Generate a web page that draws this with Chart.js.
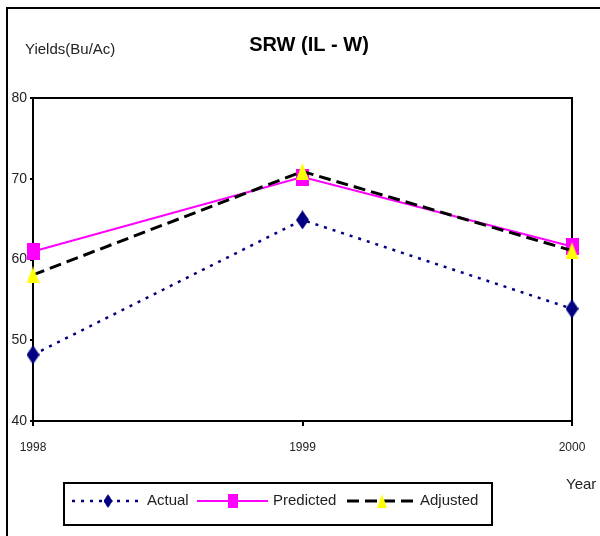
<!DOCTYPE html>
<html>
<head>
<meta charset="utf-8">
<script src="https://cdn.jsdelivr.net/npm/chart.js@4"></script>
<style>
  html, body { margin: 0; padding: 0; background: #fff; }
  #chart { display: block; }
</style>
</head>
<body>
<canvas id="chart" width="600" height="536"></canvas>
<script>
const years = ['1998', '1999', '2000'];
const actual = [48.2, 64.9, 53.9];
const predicted = [61.0, 70.2, 61.6];
const adjusted = [58.1, 70.9, 61.1];
const yTicks = [40, 50, 60, 70, 80];
const seriesNames = ['Actual', 'Predicted', 'Adjusted'];

const FONT = '"Liberation Sans", Arial, sans-serif';

// excel-like markers (a bit taller than wide)
function marker(kind, color, w, h) {
  const c = document.createElement('canvas');
  c.width = w;
  c.height = h;
  const g = c.getContext('2d');
  g.fillStyle = color;
  g.beginPath();
  if (kind === 'diamond') {
    g.moveTo(w / 2, 0); g.lineTo(w, h / 2); g.lineTo(w / 2, h); g.lineTo(0, h / 2);
  } else if (kind === 'triangle') {
    g.moveTo(w / 2, 0); g.lineTo(w, h); g.lineTo(0, h);
  } else {
    g.rect(0, 0, w, h);
  }
  g.closePath();
  g.fill();
  return c;
}

const diamond = marker('diamond', '#000080', 13, 19);
const square = marker('square', '#ff00ff', 13, 17);
const triangle = marker('triangle', '#ffff00', 13, 17);

const framePlugin = {
  id: 'frame',
  beforeDatasetsDraw(chart) {
    // plot box under the markers
    const ctx = chart.ctx;
    const a = chart.chartArea;
    ctx.save();
    ctx.strokeStyle = '#000';
    ctx.lineWidth = 2;
    ctx.strokeRect(a.left, a.top, a.right - a.left, a.bottom - a.top);
    ctx.restore();
  },
  afterDraw(chart) {
    const ctx = chart.ctx;
    ctx.save();
    ctx.strokeStyle = '#000';
    ctx.lineWidth = 2;
    ctx.setLineDash([]);
    // outer frame (only left and top show)
    ctx.beginPath();
    ctx.moveTo(7, 536);
    ctx.lineTo(7, 8);
    ctx.lineTo(600, 8);
    ctx.stroke();

    ctx.fillStyle = '#000';
    ctx.textBaseline = 'middle';
    ctx.textAlign = 'center';
    ctx.font = 'bold 20px ' + FONT;
    ctx.fillText('SRW (IL - W)', 309, 45);

    ctx.fillStyle = '#222';
    ctx.textAlign = 'left';
    ctx.font = '15px ' + FONT;
    ctx.fillText('Yields(Bu/Ac)', 25, 50);
    ctx.fillText('Year', 566, 485);

    // legend
    ctx.strokeRect(64, 483, 428, 42);
    const ly = 501;
    const items = [
      { x0: 72, x1: 142, mx: 108, tx: 147, img: diamond, w: 9, h: 14 },
      { x0: 197, x1: 268, mx: 233, tx: 273, img: square, w: 10, h: 14 },
      { x0: 347, x1: 417, mx: 382, tx: 420, img: triangle, w: 10, h: 14 }
    ];
    items.forEach((it, i) => {
      const ds = chart.data.datasets[i];
      ctx.strokeStyle = ds.borderColor;
      ctx.lineWidth = ds.borderWidth;
      ctx.setLineDash(ds.borderDash || []);
      ctx.beginPath();
      ctx.moveTo(it.x0, ly);
      ctx.lineTo(it.x1, ly);
      ctx.stroke();
      ctx.drawImage(it.img, it.mx - it.w / 2, ly - it.h / 2, it.w, it.h);
      ctx.fillStyle = '#222';
      ctx.fillText(seriesNames[i], it.tx, ly);
    });
    ctx.restore();
  }
};

new Chart(document.getElementById('chart'), {
  type: 'line',
  data: {
    labels: years,
    datasets: [{
      label: seriesNames[0],
      data: actual,
      borderColor: '#000080',
      borderWidth: 2.5,
      borderDash: [3, 6],
      pointStyle: diamond,
      clip: false,
      order: 3
    }, {
      label: seriesNames[1],
      data: predicted,
      borderColor: '#ff00ff',
      borderWidth: 2,
      pointStyle: square,
      clip: false,
      order: 2
    }, {
      label: seriesNames[2],
      data: adjusted,
      borderColor: '#000',
      borderWidth: 3,
      borderDash: [12, 6],
      pointStyle: triangle,
      clip: false,
      order: 1
    }]
  },
  options: {
    responsive: false,
    animation: false,
    devicePixelRatio: 1,
    tension: 0,
    layout: { padding: { top: 98, right: 28, left: 0, bottom: 0 } },
    plugins: {
      legend: { display: false },
      title: { display: false },
      tooltip: { enabled: false }
    },
    scales: {
      x: {
        offset: false,
        grid: { drawOnChartArea: false, drawTicks: true, tickLength: 5, color: '#000', lineWidth: 2 },
        border: { color: '#000', width: 2 },
        ticks: { color: '#222', font: { family: FONT, size: 12 }, padding: 14, maxRotation: 0 },
        afterFit(scale) { scale.height = 115; }
      },
      y: {
        min: yTicks[0],
        max: yTicks[yTicks.length - 1],
        grid: { drawOnChartArea: false, drawTicks: true, tickLength: 3, color: '#000', lineWidth: 2 },
        border: { color: '#000', width: 2 },
        ticks: { stepSize: 10, color: '#222', font: { family: FONT, size: 14 }, padding: 3 },
        afterFit(scale) { scale.width = 33; }
      }
    }
  },
  plugins: [framePlugin]
});
</script>
</body>
</html>
